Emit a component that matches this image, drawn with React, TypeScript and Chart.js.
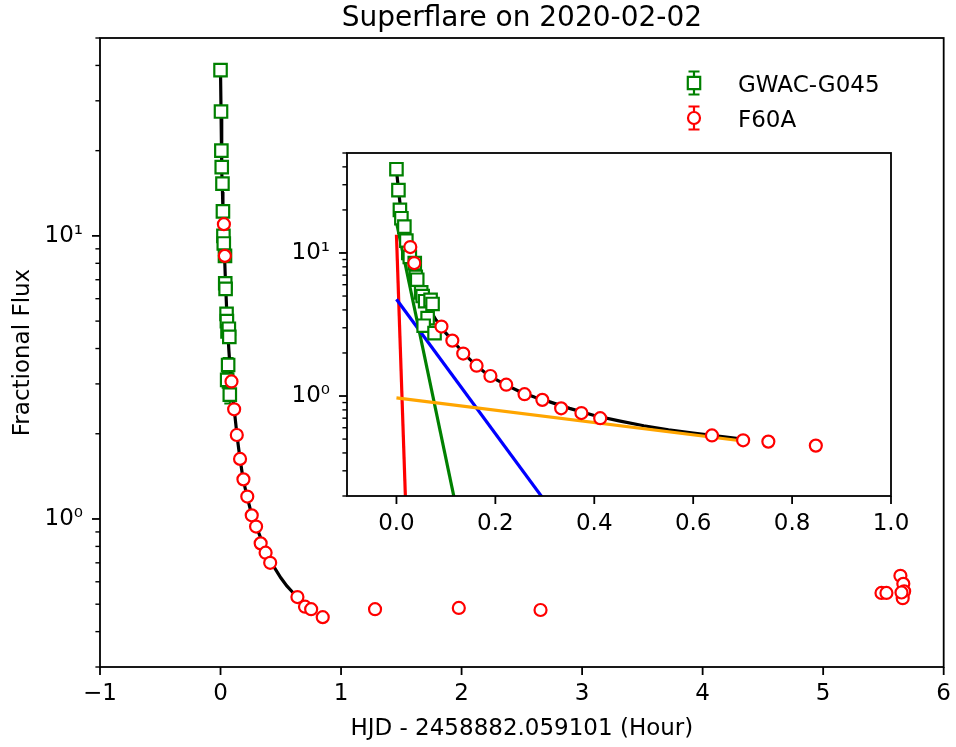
import { useEffect, useRef } from 'react';
import { Chart, registerables } from 'chart.js';
Chart.register(...registerables);

// ---------------- data (time in hours, fractional flux) ----------------
const gwacTime = [0.000, 0.004, 0.007, 0.010, 0.016, 0.020, 0.024, 0.027, 0.037, 0.039, 0.042, 0.050, 0.053, 0.058, 0.069, 0.073, 0.063, 0.055, 0.077];
const gwacFlux = [38.5, 27.5, 20.0, 17.5, 15.3, 12.2, 10.0, 9.4, 8.5, 6.8, 6.5, 5.3, 5.0, 4.6, 4.7, 4.4, 3.5, 3.1, 2.75];
const gwacErr = [0.8, 0.6, 0.45, 0.4, 0.35, 0.3, 0.28, 0.27, 0.26, 0.24, 0.24, 0.22, 0.22, 0.21, 0.21, 0.21, 0.2, 0.19, 0.19];

const f60Time = [0.028, 0.036, 0.091, 0.113, 0.135, 0.162, 0.190, 0.222, 0.259, 0.295, 0.333, 0.374, 0.412, 0.638, 0.701, 0.752, 0.848, 1.282, 1.977, 2.655, 5.484, 5.525, 5.641, 5.665, 5.672, 5.660, 5.650];
const f60Flux = [11.0, 8.5, 3.06, 2.44, 1.98, 1.63, 1.38, 1.20, 1.03, 0.94, 0.82, 0.76, 0.70, 0.53, 0.49, 0.48, 0.45, 0.48, 0.485, 0.477, 0.548, 0.548, 0.63, 0.59, 0.555, 0.525, 0.55];
const f60Err = [0.05, 0.04, 0.02, 0.015, 0.012, 0.01, 0.008, 0.007, 0.006, 0.006, 0.005, 0.005, 0.005, 0.004, 0.004, 0.004, 0.004, 0.004, 0.004, 0.004, 0.004, 0.004, 0.004, 0.004, 0.004, 0.004, 0.004];

// total fit (black)
const fitTime = [0, 0.004, 0.008, 0.012, 0.016, 0.02, 0.025, 0.03, 0.035, 0.04, 0.05, 0.06, 0.07, 0.08, 0.09, 0.10, 0.12, 0.14, 0.16, 0.18, 0.20, 0.22, 0.25, 0.28, 0.31, 0.35, 0.40, 0.45, 0.50, 0.55, 0.60, 0.65, 0.70];
const fitFlux = [38, 28, 21, 17, 14.3, 12.3, 10.6, 9.3, 8.1, 7.1, 5.6, 4.6, 3.9, 3.4, 3.05, 2.75, 2.3, 1.92, 1.65, 1.45, 1.31, 1.2, 1.07, 0.98, 0.91, 0.82, 0.73, 0.67, 0.62, 0.58, 0.55, 0.525, 0.50];

// fit components (straight in log space)
const compRedTime = [0, 0.02];
const compRedFlux = [13.4, 0.126];
const compGreenTime = [0, 0.13];
const compGreenFlux = [16.4, 0.117];
const compBlueTime = [0, 0.3];
const compBlueFlux = [4.75, 0.185];
const compOrangeTime = [0, 0.70];
const compOrangeFlux = [0.97, 0.485];

// ticks
const mainXTicks = [-1, 0, 1, 2, 3, 4, 5, 6];
const insetXTicks = [0, 0.2, 0.4, 0.6, 0.8, 1.0];
const logTicks = [0.2, 0.3, 0.4, 0.5, 0.6, 0.7, 0.8, 0.9, 1, 2, 3, 4, 5, 6, 7, 8, 9, 10, 20, 30, 40, 50];

const titleText = 'Superflare on 2020-02-02';
const xTitle = 'HJD - 2458882.059101 (Hour)';
const yTitle = 'Fractional Flux';
const legendLabels = ['GWAC-G045', 'F60A'];

const FONT = "'DejaVu Sans', sans-serif";
const GREEN = '#008000';
const RED = '#ff0000';

const pts = (xs: number[], ys: number[]) => xs.map((x, i) => ({ x, y: ys[i] }));

const isMajorLog = (v: number) => Math.abs(Math.log10(v) - Math.round(Math.log10(v))) < 1e-9;

const framePlugin = {
  id: 'frameTicks',
  beforeDraw(chart: any, _a: any, opts: any) {
    if (!opts.bg) return;
    const { ctx, chartArea: a } = chart;
    ctx.save();
    ctx.fillStyle = '#fff';
    ctx.fillRect(a.left, a.top, a.right - a.left, a.bottom - a.top);
    ctx.restore();
  },
  beforeDatasetsDraw(chart: any) {
    const { ctx, chartArea: a } = chart;
    const xs = chart.scales.x;
    const ys = chart.scales.y;
    ctx.save();
    ctx.beginPath();
    ctx.rect(a.left, a.top, a.right - a.left, a.bottom - a.top);
    ctx.clip();
    chart.data.datasets.forEach((ds: any) => {
      if (!ds.errorBars) return;
      ctx.strokeStyle = ds.pointBorderColor;
      ctx.lineWidth = 2;
      ds.data.forEach((p: any, i: number) => {
        const e = ds.errorBars[i];
        const px = xs.getPixelForValue(p.x);
        const y1 = ys.getPixelForValue(p.y + e);
        const y2 = ys.getPixelForValue(Math.max(p.y - e, 1e-3));
        ctx.beginPath();
        ctx.moveTo(px, y1); ctx.lineTo(px, y2);
        ctx.moveTo(px - 5.5, y1); ctx.lineTo(px + 5.5, y1);
        ctx.moveTo(px - 5.5, y2); ctx.lineTo(px + 5.5, y2);
        ctx.stroke();
      });
    });
    ctx.restore();
  },
  afterDraw(chart: any, _a: any, opts: any) {
    const { ctx, chartArea: a } = chart;
    const xs = chart.scales.x;
    const ys = chart.scales.y;
    ctx.save();
    ctx.strokeStyle = '#000';
    xs.ticks.forEach((t: any) => {
      const px = xs.getPixelForValue(t.value);
      ctx.lineWidth = 1.8;
      ctx.beginPath();
      ctx.moveTo(px, a.bottom);
      ctx.lineTo(px, a.bottom + 8);
      ctx.stroke();
    });
    ys.ticks.forEach((t: any) => {
      const py = ys.getPixelForValue(t.value);
      const major = isMajorLog(t.value);
      ctx.lineWidth = major ? 1.8 : 1.4;
      ctx.beginPath();
      ctx.moveTo(a.left, py);
      ctx.lineTo(a.left - (major ? 8 : 4.6), py);
      ctx.stroke();
    });
    ctx.lineWidth = 1.8;
    ctx.strokeRect(a.left, a.top, a.right - a.left, a.bottom - a.top);

    if (opts.title) {
      ctx.fillStyle = '#000';
      ctx.font = `28px ${FONT}`;
      ctx.textAlign = 'center';
      ctx.textBaseline = 'alphabetic';
      ctx.fillText(titleText, (a.left + a.right) / 2, 26);
    }
    if (opts.legend) {
      const rows = [
        { y: 83, color: GREEN, shape: 'rect', label: legendLabels[0] },
        { y: 118, color: RED, shape: 'circle', label: legendLabels[1] },
      ];
      const ix = 694;
      rows.forEach((r) => {
        ctx.strokeStyle = r.color;
        ctx.lineWidth = 2.2;
        ctx.beginPath();
        ctx.moveTo(ix, r.y - 11.5); ctx.lineTo(ix, r.y + 11.5);
        ctx.moveTo(ix - 5.5, r.y - 11.5); ctx.lineTo(ix + 5.5, r.y - 11.5);
        ctx.moveTo(ix - 5.5, r.y + 11.5); ctx.lineTo(ix + 5.5, r.y + 11.5);
        ctx.stroke();
        ctx.fillStyle = '#fff';
        ctx.beginPath();
        if (r.shape === 'rect') {
          ctx.rect(ix - 6.2, r.y - 6.2, 12.4, 12.4);
        } else {
          ctx.arc(ix, r.y, 6, 0, Math.PI * 2);
        }
        ctx.fill();
        ctx.stroke();
        ctx.fillStyle = '#000';
        ctx.font = `23px ${FONT}`;
        ctx.textAlign = 'left';
        ctx.textBaseline = 'alphabetic';
        ctx.fillText(r.label, 738, r.y + 8.5);
      });
    }
    ctx.restore();
  },
};

function markerSets() {
  return [
    {
      label: legendLabels[1],
      data: pts(f60Time, f60Flux),
      errorBars: f60Err,
      pointStyle: 'circle',
      pointRadius: 6,
      pointBorderWidth: 2.2,
      pointBorderColor: RED,
      pointBackgroundColor: '#fff',
      borderColor: RED,
      showLine: false,
      order: 0,
    },
    {
      label: legendLabels[0],
      data: pts(gwacTime, gwacFlux),
      errorBars: gwacErr,
      pointStyle: 'rect',
      pointRadius: 8.8,
      pointBorderWidth: 2.2,
      pointBorderColor: GREEN,
      pointBackgroundColor: '#fff',
      borderColor: GREEN,
      showLine: false,
      order: 1,
    },
  ];
}

function lineSet(xs: number[], ys: number[], color: string, order: number) {
  return {
    data: pts(xs, ys),
    showLine: true,
    borderColor: color,
    borderWidth: 3.2,
    pointRadius: 0,
    tension: 0,
    clip: 0,
    order,
  };
}

function baseOptions(o: any) {
  return {
    responsive: false,
    animation: false,
    devicePixelRatio: 1,
    events: [],
    layout: { padding: { top: o.padTop, right: o.padRight, left: 0, bottom: 0 } },
    plugins: {
      legend: { display: false },
      tooltip: { enabled: false },
      frameTicks: { bg: o.bg, title: o.title, legend: o.legend },
    },
    scales: {
      x: {
        type: 'linear',
        min: o.xmin,
        max: o.xmax,
        afterBuildTicks: (s: any) => { s.ticks = o.xticks.map((v: number) => ({ value: v })); },
        afterFit: (s: any) => { s.height = o.xh; },
        grid: { display: true, drawOnChartArea: false, drawTicks: true, tickLength: 8, tickColor: 'rgba(0,0,0,0)' },
        border: { display: false },
        ticks: {
          autoSkip: false,
          maxRotation: 0,
          padding: o.xpad,
          color: '#000',
          font: { size: 23, family: FONT },
          callback: o.xfmt,
        },
        title: o.xtitle
          ? { display: true, text: xTitle, color: '#000', font: { size: 23, family: FONT }, padding: { top: 0, bottom: 4 } }
          : { display: false },
      },
      y: {
        type: 'logarithmic',
        min: o.ymin,
        max: o.ymax,
        afterBuildTicks: (s: any) => {
          s.ticks = logTicks.filter((v) => v >= o.ymin - 1e-9 && v <= o.ymax + 1e-9).map((v) => ({ value: v, major: isMajorLog(v) }));
        },
        afterFit: (s: any) => { s.width = o.yw; },
        grid: { display: true, drawOnChartArea: false, drawTicks: true, tickLength: 8, tickColor: 'rgba(0,0,0,0)' },
        border: { display: false },
        ticks: {
          autoSkip: false,
          padding: 9,
          color: '#000',
          font: { size: 23, family: FONT },
          callback: (v: number) => (Math.abs(v - 1) < 1e-9 ? '10\u2070' : Math.abs(v - 10) < 1e-9 ? '10\u00b9' : ''),
        },
        title: o.ytitle
          ? { display: true, text: yTitle, color: '#000', font: { size: 23, family: FONT }, padding: { top: 9, bottom: 0 } }
          : { display: false },
      },
    },
  };
}

// inset placement (page coords)
const INSET_L = 260;
const INSET_T = 130;
const INSET_W = 660;
const INSET_H = 420;

export default function App() {
  const mainRef = useRef<HTMLCanvasElement>(null);
  const insetRef = useRef<HTMLCanvasElement>(null);

  useEffect(() => {
    Chart.defaults.font.family = FONT;
    Chart.defaults.color = '#000';
    const main = new Chart(mainRef.current as HTMLCanvasElement, {
      type: 'scatter',
      data: {
        datasets: [...markerSets(), lineSet(fitTime, fitFlux, '#000', 3)] as any,
      },
      options: baseOptions({
        padTop: 38, padRight: 10, bg: false, title: true, legend: true,
        xmin: -1, xmax: 6, xticks: mainXTicks, xh: 80, xpad: 5, yw: 100,
        ymin: 0.3, ymax: 50, xtitle: true, ytitle: true,
        xfmt: (v: number) => (v < 0 ? '\u2212' + Math.abs(v) : String(v)),
      }) as any,
      plugins: [framePlugin as any],
    });
    const inset = new Chart(insetRef.current as HTMLCanvasElement, {
      type: 'scatter',
      data: {
        datasets: [
          ...markerSets(),
          lineSet(compOrangeTime, compOrangeFlux, '#ffa500', 2),
          lineSet(compBlueTime, compBlueFlux, '#0000ff', 2),
          lineSet(compGreenTime, compGreenFlux, GREEN, 2),
          lineSet(compRedTime, compRedFlux, RED, 2),
          lineSet(fitTime, fitFlux, '#000', 3),
        ] as any,
      },
      options: baseOptions({
        padTop: 23, padRight: 29, bg: true, title: false, legend: false,
        xmin: -0.1, xmax: 1.0, xticks: insetXTicks, xh: 54, xpad: 6, yw: 87,
        ymin: 0.2, ymax: 50, xtitle: false, ytitle: false,
        xfmt: (v: number) => v.toFixed(1),
      }) as any,
      plugins: [framePlugin as any],
    });
    return () => {
      main.destroy();
      inset.destroy();
    };
  }, []);

  return (
    <div style={{ position: 'fixed', left: 0, top: 0, width: 956, height: 747, background: '#fff' }}>
      <canvas ref={mainRef} width={956} height={747} style={{ position: 'absolute', left: 0, top: 0, width: 956, height: 747 }} />
      <canvas
        ref={insetRef}
        width={INSET_W}
        height={INSET_H}
        style={{ position: 'absolute', left: INSET_L, top: INSET_T, width: INSET_W, height: INSET_H }}
      />
    </div>
  );
}
